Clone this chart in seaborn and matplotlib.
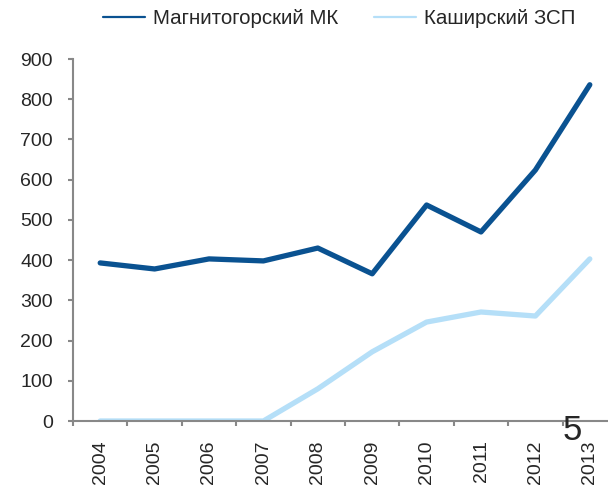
import matplotlib
matplotlib.use("Agg")
import matplotlib.pyplot as plt
import seaborn as sns
import pandas as pd
import numpy as np
from matplotlib.lines import Line2D

years = ["2004", "2005", "2006", "2007", "2008", "2009", "2010", "2011", "2012", "2013"]
mmk = [393, 378, 403, 398, 430, 366, 537, 470, 624, 836]
kzsp = [0, 0, 0, 0, 80, 172, 246, 271, 261, 403]
series_names = ["Магнитогорский МК", "Каширский ЗСП"]
colors = ["#0a5291", "#b5dff8"]

sns.set_theme(style="white")
plt.rcParams['font.family'] = ['Liberation Sans', 'DejaVu Sans']

df = pd.DataFrame({
    "year": years * 2,
    "idx": list(range(len(years))) * 2,
    "value": mmk + kzsp,
    "series": [series_names[0]] * len(years) + [series_names[1]] * len(years),
})

fig = plt.figure(figsize=(6.08, 4.91), dpi=100)
ax = fig.add_axes([73/608, 70/491, (617-73)/608, (421-59)/491])
sns.lineplot(data=df, x="idx", y="value", hue="series", palette=colors,
             linewidth=3.8, ax=ax, legend=False, solid_capstyle="round")

ax.set_xlim(-0.5, len(years) - 0.5)
ax.set_ylim(0, 900)
ax.set_yticks(range(0, 901, 100))
ax.set_xticks(range(len(years)))
ax.set_xticklabels(years, rotation=90, fontsize=14)
ax.set_xticks(np.arange(-0.5, len(years), 1), minor=True)
ax.tick_params(axis="x", which="major", length=0, pad=14)
ax.tick_params(axis="x", which="minor", length=3.5, color="#888888", width=1.5, direction="out")
ax.tick_params(axis="y", length=3.5, color="#888888", width=1.5, direction="out", labelsize=14, pad=11)
ax.xaxis.set_ticks_position("bottom")
ax.yaxis.set_ticks_position("left")
ax.set_xlabel("")
ax.set_ylabel("")
for s in ["top", "right"]:
    ax.spines[s].set_visible(False)
for s in ["left", "bottom"]:
    ax.spines[s].set_color("#888888")
    ax.spines[s].set_linewidth(1.5)

handles = [Line2D([0], [0], color=c, linewidth=1.6) for c in colors]
fig.legend(handles, series_names, loc="center left", bbox_to_anchor=(103/608, 1 - 19/491),
           borderaxespad=0, borderpad=0,
           ncol=2, frameon=False, fontsize=14.8, handlelength=2.05, handletextpad=0.4,
           columnspacing=1.7)

fig.text(572/608, 1 - 430/491, "5", fontsize=25, ha="center", va="center")

fig.savefig("out.png", dpi=100)
